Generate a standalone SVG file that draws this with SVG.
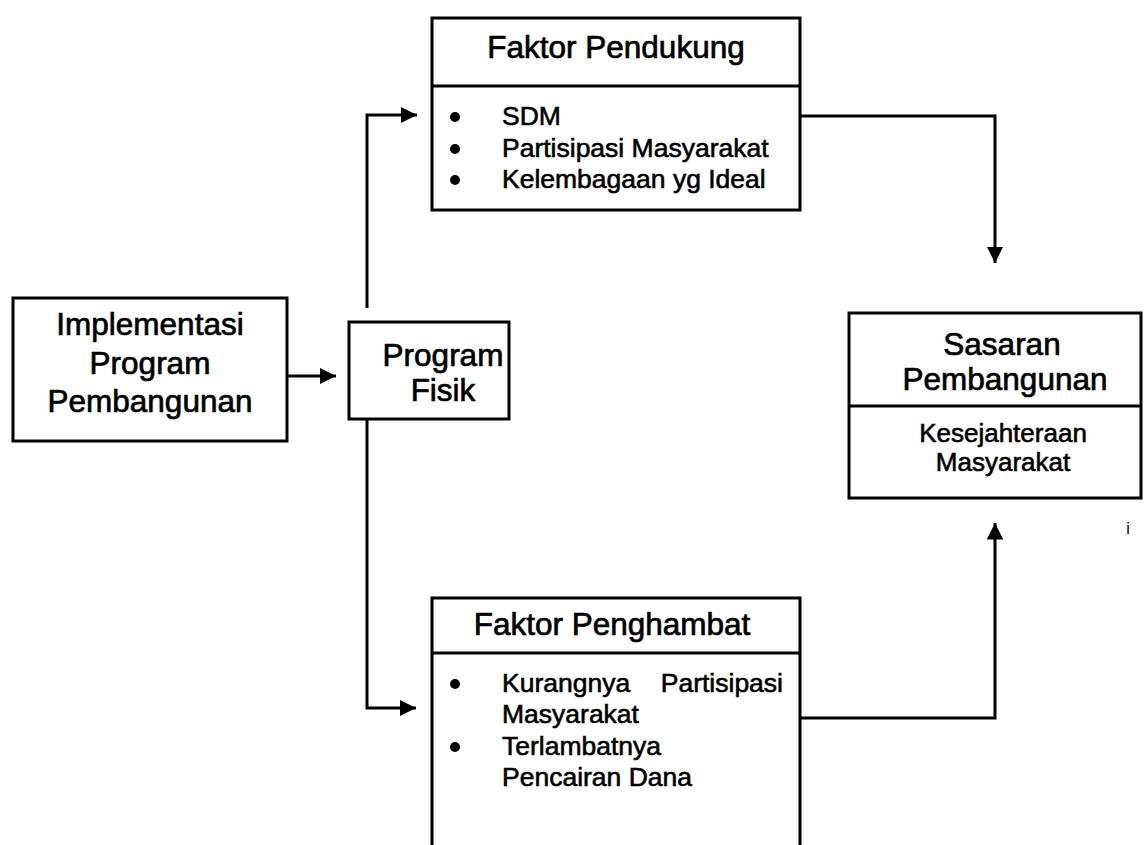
<svg xmlns="http://www.w3.org/2000/svg" width="1145" height="845" viewBox="0 0 1145 845">
<defs>
<marker id="ah" viewBox="0 0 10 10" refX="10" refY="5" markerWidth="5.5" markerHeight="5.5" markerUnits="strokeWidth" orient="auto">
<path d="M0,0 L10,5 L0,10 z" fill="#000"/>
</marker>
<style>
.box{fill:#fff;stroke:#000;stroke-width:3}
.ln{fill:none;stroke:#000;stroke-width:3}
.con{fill:none;stroke:#000;stroke-width:3;marker-end:url(#ah)}
.h{font-family:"Liberation Sans",Arial,sans-serif;font-size:31.5px;fill:#000;stroke:#000;stroke-width:0.7;text-anchor:middle}
.b{font-family:"Liberation Sans",Arial,sans-serif;font-size:26.5px;fill:#000;stroke:#000;stroke-width:0.6}
.s{font-family:"Liberation Sans",Arial,sans-serif;font-size:26px;fill:#000;stroke:#000;stroke-width:0.6;text-anchor:middle}
</style>
</defs>
<rect width="1145" height="845" fill="#fff"/>

<g id="connectors">
<path class="con" d="M287,376 H336"/>
<path class="con" d="M367,308 V115 H417"/>
<path class="con" d="M367,420 V708 H416"/>
<path class="con" d="M800,116 H995 V263"/>
<path class="con" d="M800,718 H995 V523"/>
</g>

<g id="implementasi">
<rect class="box" x="13" y="298" width="274" height="143"/>
<text class="h" x="150" y="335">Implementasi</text>
<text class="h" x="150" y="374">Program</text>
<text class="h" x="150" y="412">Pembangunan</text>
</g>

<g id="program-fisik">
<rect class="box" x="349" y="322" width="160" height="97"/>
<text class="h" x="443" y="366">Program</text>
<text class="h" x="443" y="401">Fisik</text>
</g>

<g id="faktor-pendukung">
<rect class="box" x="432" y="18" width="368" height="192"/>
<line class="ln" x1="432" y1="86" x2="800" y2="86"/>
<text class="h" x="616" y="58">Faktor Pendukung</text>
<circle cx="455" cy="117" r="5"/>
<circle cx="455" cy="149" r="5"/>
<circle cx="455" cy="180" r="5"/>
<text class="b" x="502" y="125">SDM</text>
<text class="b" x="502" y="157">Partisipasi Masyarakat</text>
<text class="b" x="502" y="188">Kelembagaan yg Ideal</text>
</g>

<g id="faktor-penghambat">
<path class="box" d="M432,847 V598 H800 V847"/>
<line class="ln" x1="432" y1="653" x2="800" y2="653"/>
<text class="h" x="612" y="635">Faktor Penghambat</text>
<circle cx="455" cy="684" r="5"/>
<circle cx="455" cy="747" r="5"/>
<text class="b" x="502" y="692">Kurangnya</text>
<text class="b" x="783" y="692" text-anchor="end">Partisipasi</text>
<text class="b" x="502" y="723">Masyarakat</text>
<text class="b" x="502" y="755">Terlambatnya</text>
<text class="b" x="502" y="786">Pencairan Dana</text>
</g>

<g id="sasaran-pembangunan">
<rect class="box" x="849" y="313" width="292" height="185"/>
<line class="ln" x1="849" y1="406" x2="1141" y2="406"/>
<text class="h" x="1002" y="355">Sasaran</text>
<text class="h" x="1005" y="390">Pembangunan</text>
<text class="s" x="1003" y="442">Kesejahteraan</text>
<text class="s" x="1003" y="471">Masyarakat</text>
</g>

<text x="1128" y="534" font-family="Liberation Sans, Arial, sans-serif" font-size="16" text-anchor="middle">i</text>
</svg>
